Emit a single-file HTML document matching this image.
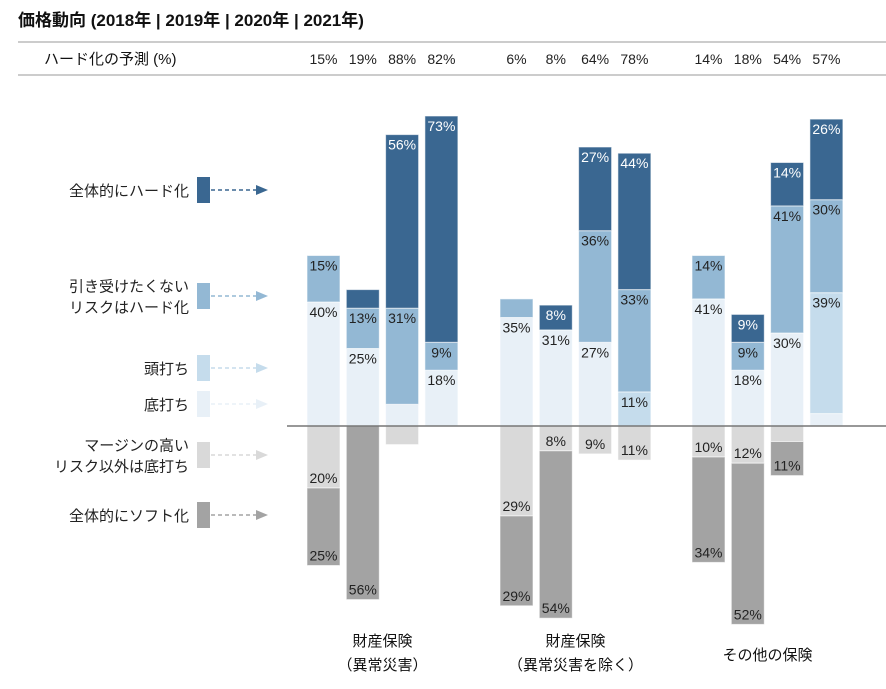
<!DOCTYPE html>
<html><head><meta charset="utf-8">
<style>
body{margin:0;background:#fff;}
svg{display:block;font-family:"Liberation Sans","Noto Sans CJK JP",sans-serif;}
</style></head>
<body>
<svg id="chart" width="886" height="689" viewBox="0 0 886 689">
<text x="18" y="26" font-size="17" font-weight="bold" fill="#111">価格動向 (2018年 | 2019年 | 2020年 | 2021年)</text>
<line x1="18" y1="42" x2="886" y2="42" stroke="#bbb" stroke-width="1.5"/>
<line x1="18" y1="75" x2="886" y2="75" stroke="#bbb" stroke-width="1.5"/>
<text x="44" y="64" font-size="15" fill="#111">ハード化の予測 (%)</text>
<g id="legend"></g>
<g id="bars"></g>
<line x1="287" y1="426" x2="886" y2="426" stroke="#777" stroke-width="1.5"/>
<g id="labels"></g>
</svg>
<script>
const groups = ["財産保険\n（異常災害）", "財産保険\n（異常災害を除く）", "その他の保険"];
const forecast = [15,19,88,82, 6,8,64,78, 14,18,54,57];
// per bar (12 bars: group x year)
const floorVals = [40,25,7,18, 35,31,27,0, 41,18,30,4];
const capVals   = [0,0,0,0,    0,0,0,11,   0,0,0,39];
const riskVals  = [15,13,31,9, 6,0,36,33,  14,9,41,30];
const hardVals  = [0,6,56,73,  0,8,27,44,  0,9,14,26];
const marginVals= [20,0,6,0,   29,8,9,11,  10,12,5,0];
const softVals  = [25,56,0,0,  29,54,0,0,  34,52,11,0];

const NS="http://www.w3.org/2000/svg";
const svg=document.getElementById('chart');
const barsG=document.getElementById('bars');
const base=426, unit=3.1;
function yScale(v){return v*unit;}
function xBar(i){const g=Math.floor(i/4), k=i%4; return [307,500,692][g]+k*39.3;}
const bw=33;
function mk(tag,attrs,parent){const e=document.createElementNS(NS,tag);for(const k in attrs)e.setAttribute(k,attrs[k]);parent.appendChild(e);return e;}

const posSeries=[[floorVals,'#e8f0f7','floor','#222'],[capVals,'#c5dcec','cap','#222'],[riskVals,'#93b8d4','risk-hard','#222'],[hardVals,'#3a6791','hard','#fff']];
const negSeries=[[marginVals,'#d9d9d9','margin-floor','#222'],[softVals,'#a3a3a3','soft','#222']];

for(let i=0;i<12;i++){
  const x=xBar(i);
  let acc=0;
  posSeries.forEach(s=>{
    const v=s[0][i]; if(!v) return;
    const h=yScale(v), top=base-yScale(acc)-h;
    const r=mk('rect',{x:x,y:top,width:bw,height:h,fill:s[1],stroke:'#fff','stroke-opacity':0.6,'stroke-width':1},barsG);
    
    
    if(v>=8){const t=mk('text',{x:x+bw/2,y:top+15,'text-anchor':'middle','font-size':14,fill:s[3]},barsG);t.textContent=v+'%';
      
      }
    acc+=v;
  });
  acc=0;
  negSeries.forEach(s=>{
    const v=s[0][i]; if(!v) return;
    const h=yScale(v), top=base+yScale(acc);
    const r=mk('rect',{x:x,y:top,width:bw,height:h,fill:s[1],stroke:'#fff','stroke-opacity':0.6,'stroke-width':1},barsG);
    
    
    if(v>=8){const t=mk('text',{x:x+bw/2,y:top+h-5,'text-anchor':'middle','font-size':14,fill:s[3]},barsG);t.textContent=v+'%';
      
      }
    acc+=v;
  });
  const f=mk('text',{x:x+bw/2,y:64,'text-anchor':'middle','font-size':14,fill:'#222'},svg);
  f.textContent=forecast[i]+'%';
  
  
}

const lg=document.getElementById('legend');
const legendItems=[[['全体的にハード化'],190,'#3a6791'],[['引き受けたくない','リスクはハード化'],296,'#93b8d4'],[['頭打ち'],368,'#c5dcec'],[['底打ち'],404,'#e8f0f7'],[['マージンの高い','リスク以外は底打ち'],455,'#d9d9d9'],[['全体的にソフト化'],515,'#a3a3a3']];
legendItems.forEach(it=>{
  const [lines,cy,c]=it;
  const sw=mk('rect',{x:197,y:cy-13,width:13,height:26,fill:c},lg);
  
  
  mk('line',{x1:211,y1:cy,x2:256,y2:cy,stroke:c,'stroke-width':1.5,'stroke-dasharray':'4,3'},lg);
  mk('path',{d:`M256 ${cy-5} L268 ${cy} L256 ${cy+5} Z`,fill:c},lg);
  lines.forEach((l,j)=>{
    const t=mk('text',{x:189,y:cy+6+(j-(lines.length-1)/2)*21,'text-anchor':'end','font-size':15,fill:'#222'},lg);
    t.textContent=l;
    
    
  });
});

const lb=document.getElementById('labels');
groups.forEach((g,gi)=>{
  const cx=xBar(gi*4)+(3*39.3+bw)/2;
  const ls=g.split('\n');
  ls.forEach((l,j)=>{
    const y=ls.length===1?660:646+j*24;
    const t=mk('text',{x:cx,y:y,'text-anchor':'middle','font-size':15,fill:'#111'},lb);
    t.textContent=l;
    
    
  });
});
</script>
</body></html>
